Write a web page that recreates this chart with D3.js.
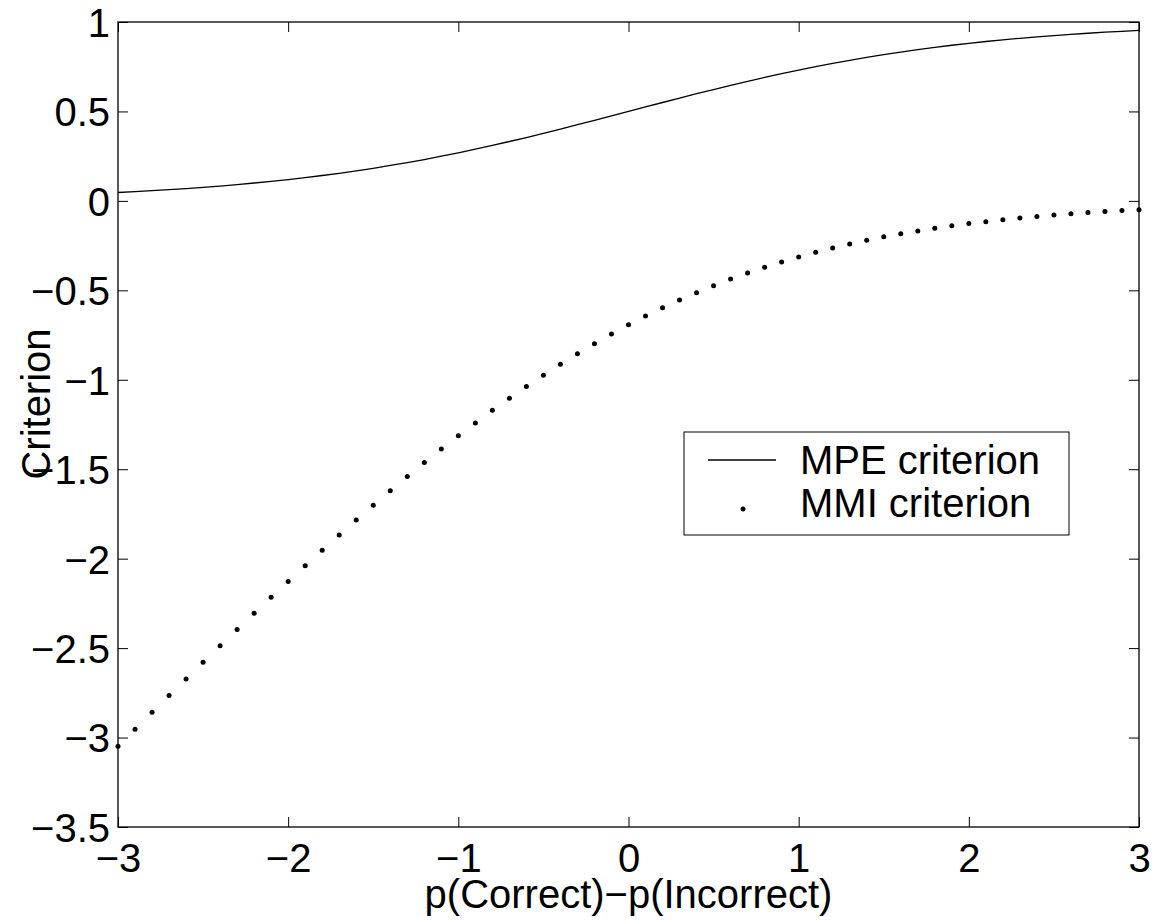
<!DOCTYPE html>
<html>
<head>
<meta charset="utf-8">
<script src="https://cdn.jsdelivr.net/npm/d3@7"></script>
<style>
  body { margin: 0; background: #fff; }
  svg { display: block; }
  text { font-family: "Liberation Sans", Arial, Helvetica, sans-serif; fill: #000; }
</style>
</head>
<body>
<script>
// x values (one point every 0.1)
var xVals = [-3.0, -2.9, -2.8, -2.7, -2.6, -2.5, -2.4, -2.3, -2.2, -2.1,
             -2.0, -1.9, -1.8, -1.7, -1.6, -1.5, -1.4, -1.3, -1.2, -1.1,
             -1.0, -0.9, -0.8, -0.7, -0.6, -0.5, -0.4, -0.3, -0.2, -0.1,
              0.0,  0.1,  0.2,  0.3,  0.4,  0.5,  0.6,  0.7,  0.8,  0.9,
              1.0,  1.1,  1.2,  1.3,  1.4,  1.5,  1.6,  1.7,  1.8,  1.9,
              2.0,  2.1,  2.2,  2.3,  2.4,  2.5,  2.6,  2.7,  2.8,  2.9, 3.0];

// MPE criterion (solid line)
var mpeVals = [0.047, 0.052, 0.057, 0.063, 0.069, 0.076, 0.083, 0.091, 0.100, 0.109,
               0.119, 0.130, 0.142, 0.154, 0.168, 0.182, 0.198, 0.214, 0.231, 0.250,
               0.269, 0.289, 0.310, 0.332, 0.354, 0.378, 0.401, 0.426, 0.450, 0.475,
               0.500, 0.525, 0.550, 0.574, 0.599, 0.622, 0.646, 0.668, 0.690, 0.711,
               0.731, 0.750, 0.769, 0.786, 0.802, 0.818, 0.832, 0.846, 0.858, 0.870,
               0.881, 0.891, 0.900, 0.909, 0.917, 0.924, 0.931, 0.937, 0.943, 0.948, 0.953];

// MMI criterion (dots)
var mmiVals = [-3.049, -2.954, -2.859, -2.765, -2.672, -2.579, -2.487, -2.396, -2.305, -2.216,
               -2.127, -2.039, -1.953, -1.868, -1.784, -1.701, -1.620, -1.541, -1.463, -1.387,
               -1.313, -1.241, -1.171, -1.103, -1.037, -0.974, -0.913, -0.854, -0.798, -0.744,
               -0.693, -0.644, -0.598, -0.554, -0.513, -0.474, -0.437, -0.403, -0.371, -0.341,
               -0.313, -0.287, -0.263, -0.241, -0.220, -0.201, -0.184, -0.168, -0.153, -0.139,
               -0.127, -0.116, -0.105, -0.096, -0.087, -0.079, -0.072, -0.065, -0.059, -0.054, -0.049];

var xTicks = [-3, -2, -1, 0, 1, 2, 3];
var yTicks = [1, 0.5, 0, -0.5, -1, -1.5, -2, -2.5, -3, -3.5];
var legendLabels = ["MPE criterion", "MMI criterion"];

var W = 1153, H = 922;
var pLeft = 118, pRight = 1139, pTop = 22, pBottom = 827;
var fontSize = 40, tickLen = 10, dotR = 2.5;

var svg = d3.select("body").append("svg")
    .attr("width", W)
    .attr("height", H);

var x = d3.scaleLinear().domain([-3, 3]).range([pLeft, pRight]);
var y = d3.scaleLinear().domain([-3.5, 1]).range([pBottom, pTop]);

// minus sign like the original
function fmt(d) {
    return String(d).replace("-", "\u2212");
}

// plot box
svg.append("rect")
    .attr("x", pLeft).attr("y", pTop)
    .attr("width", pRight - pLeft).attr("height", pBottom - pTop)
    .attr("fill", "none").attr("stroke", "#000").attr("stroke-width", 1.3);

// inward ticks on all four sides
var gx = svg.append("g").attr("transform", "translate(0," + pBottom + ")")
    .call(d3.axisBottom(x).tickValues(xTicks).tickSize(-tickLen).tickPadding(15).tickFormat(fmt));
var gxTop = svg.append("g").attr("transform", "translate(0," + pTop + ")")
    .call(d3.axisTop(x).tickValues(xTicks).tickSize(-tickLen).tickFormat(""));
var gy = svg.append("g").attr("transform", "translate(" + pLeft + ",0)")
    .call(d3.axisLeft(y).tickValues(yTicks).tickSize(-tickLen).tickPadding(8).tickFormat(fmt));
var gyRight = svg.append("g").attr("transform", "translate(" + pRight + ",0)")
    .call(d3.axisRight(y).tickValues(yTicks).tickSize(-tickLen).tickFormat(""));

[gx, gxTop, gy, gyRight].forEach(function (g) {
    g.select(".domain").remove();
    g.selectAll(".tick line").attr("stroke", "#000").attr("stroke-width", 1);
    g.selectAll(".tick text")
        .style("font-family", "'Liberation Sans', Arial, sans-serif")
        .style("font-size", fontSize + "px")
        .attr("fill", "#000");
});
gx.selectAll(".tick text").attr("dy", "0.76em");
gy.selectAll(".tick text").attr("dy", "0.36em");

// MPE line
var line = d3.line()
    .x(function (d, i) { return x(xVals[i]); })
    .y(function (d) { return y(d); });

svg.append("path")
    .datum(mpeVals)
    .attr("d", line)
    .attr("fill", "none")
    .attr("stroke", "#000")
    .attr("stroke-width", 1.3);

// MMI dots
svg.append("g").selectAll("circle")
    .data(mmiVals)
    .enter().append("circle")
    .attr("cx", function (d, i) { return x(xVals[i]); })
    .attr("cy", function (d) { return y(d); })
    .attr("r", dotR)
    .attr("fill", "#000");

// axis labels
svg.append("text")
    .attr("x", (pLeft + pRight) / 2)
    .attr("y", 908)
    .attr("text-anchor", "middle")
    .style("font-size", fontSize + "px")
    .text("p(Correct)\u2212p(Incorrect)");

svg.append("text")
    .attr("transform", "translate(50,404) rotate(-90)")
    .attr("text-anchor", "middle")
    .style("font-size", fontSize + "px")
    .text("Criterion");

// legend
var lg = svg.append("g");
lg.append("rect")
    .attr("x", 684).attr("y", 432)
    .attr("width", 385).attr("height", 103)
    .attr("fill", "#fff").attr("stroke", "#000").attr("stroke-width", 1);

lg.append("line")
    .attr("x1", 708).attr("x2", 776)
    .attr("y1", 460).attr("y2", 460)
    .attr("stroke", "#000").attr("stroke-width", 1.3);
lg.append("circle")
    .attr("cx", 743).attr("cy", 509).attr("r", dotR)
    .attr("fill", "#000");

lg.selectAll("text.lab")
    .data(legendLabels)
    .enter().append("text")
    .attr("class", "lab")
    .attr("x", 800)
    .attr("y", function (d, i) { return 474 + i * 43; })
    .style("font-size", fontSize + "px")
    .text(function (d) { return d; });
</script>
</body>
</html>
